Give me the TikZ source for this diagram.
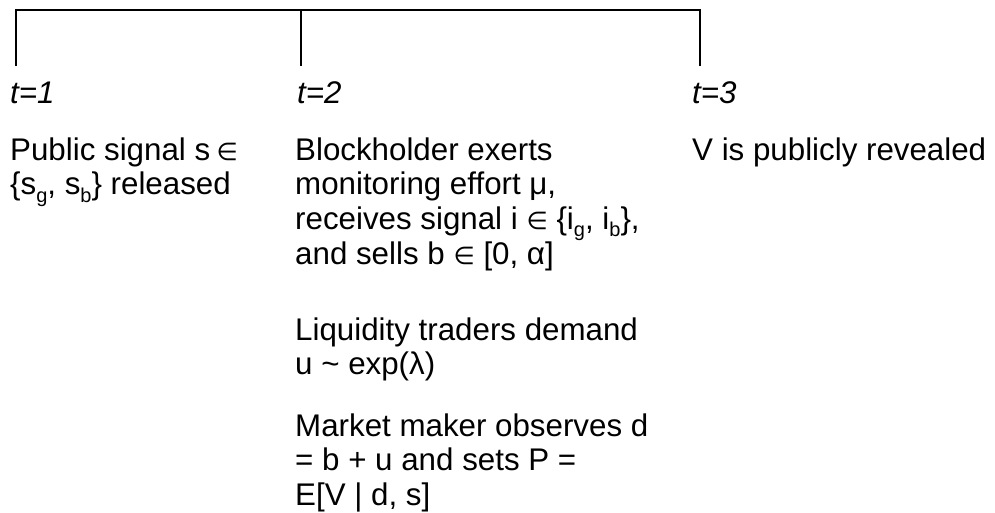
\documentclass[tikz,border=0pt]{standalone}
\usepackage{fontspec}
\setmainfont{Liberation Sans}
\newfontfamily\symfnt{DejaVu Sans}[Scale=0.78]
\newcommand\elem{{\symfnt ∈}}
\newcommand\sbs[1]{\raisebox{-0.25em}{\fontsize{20}{20}\selectfont #1}}
\newcommand\ptext[1]{\parbox[t]{600pt}{\raggedright #1}}
\begin{document}
\begin{tikzpicture}[x=1pt,y=-1pt,
  txt/.style={anchor=base west, inner sep=0pt, font=\fontsize{31.3}{34.5}\selectfont},
  tlab/.style={anchor=base west, inner sep=0pt, font=\fontsize{31.3}{34.5}\selectfont\itshape},
  rule/.style={line width=1.3pt, black}]
\useasboundingbox (0,0) rectangle (995,512);
% timeline
\coordinate (a0) at (16,10);
\coordinate (a1) at (16,66);
\coordinate (b0) at (301,10);
\coordinate (b1) at (301,66);
\coordinate (c0) at (700,10);
\coordinate (c1) at (700,66);
\draw[rule] (a1) -- (a0) -- (c0) -- (c1);
\draw[rule] (b0) -- (b1);
% time labels
\node[tlab] (t1) at (10,103) {t=1};
\node[tlab] (t2) at (297,103) {t=2};
\node[tlab] (t3) at (692,103) {t=3};
% events
\node[txt] (e1) at (10,160) {\ptext{Public signal s\hspace{0.2em}\elem\\ \{s\sbs{g}, s\sbs{b}\} released}};
\node[txt] (e2a) at (295,160) {\ptext{Blockholder exerts\\ monitoring effort μ,\\ receives signal i \elem\ \{i\sbs{g}, i\sbs{b}\},\\ and sells b \elem\ [0, α]}};
\node[txt] (e2b) at (295,340) {\ptext{Liquidity traders demand\\ u \textasciitilde\ exp(λ)}};
\node[txt] (e2c) at (295,436) {\ptext{Market maker observes d\\ = b + u and sets P =\\ E[V | d, s]}};
\node[txt] (e3) at (692,160) {\ptext{V is publicly revealed}};
\end{tikzpicture}
\end{document}
